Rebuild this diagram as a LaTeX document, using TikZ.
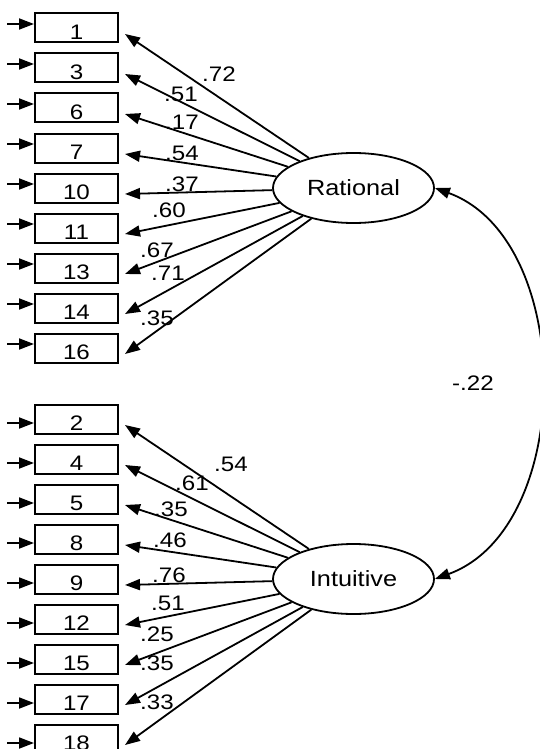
\documentclass[tikz,border=0pt]{standalone}
\usepackage{fontspec}
\newfontfamily\amosfont{Liberation Sans}[FakeStretch=1.15]
\usetikzlibrary{arrows.meta,shapes.geometric}

\tikzset{
  obs/.style={draw, line width=2pt, minimum width=83pt, minimum height=29pt,
    inner sep=0pt, text height=23pt, text depth=0pt,
    font=\amosfont\fontsize{21}{21}\selectfont},
  lat/.style={draw, ellipse, line width=1.8pt, minimum width=161pt,
    minimum height=70pt, inner sep=0pt,
    font=\amosfont\fontsize{22}{22}\selectfont},
  path/.style={line width=1.8pt, ->},
  coef/.style={inner sep=0pt, font=\amosfont\fontsize{21}{21}\selectfont}
}

\begin{document}
\begin{tikzpicture}[x=1pt, y=1pt, >={Triangle[length=15pt,width=11pt]}]
  \useasboundingbox (0,0) rectangle (540,-749);

  \node[lat] (rat) at (353.5,-188) {Rational};
  \node[lat] (int) at (353.5,-579) {Intuitive};

  % rational items
  \foreach \v/\w/\lx/\ly [count=\i from 0] in {1/.72/219/74, 3/.51/181/94,
      6/.17/182/122, 7/.54/182/153, 10/.37/182/184, 11/.60/169/210,
      13/.67/157/250, 14/.71/168/273, 16/.35/157/318} {
    \node[obs] (r\v) at (76.5,{-28-40*\i}) {\v};
    \coordinate (er\v) at ([xshift=-27pt,yshift=4pt]r\v.west);
    \draw[path] (er\v) -- ([yshift=4pt]r\v.west);
    \draw[path] (rat) -- ([xshift=6pt,yshift=-6pt]r\v.east);
    \node[coef] (lr\v) at (\lx,-\ly) {\w};
  }

  % intuitive items
  \foreach \v/\w/\lx/\ly [count=\i from 0] in {2/.54/231/464, 4/.61/192/483,
      5/.35/171/509, 8/.46/170/540, 9/.76/169/575, 12/.51/168/603,
      15/.25/157/634, 17/.35/157/663, 18/.33/157/702} {
    \node[obs] (i\v) at (76.5,{-419-40*\i}) {\v};
    \coordinate (ei\v) at ([xshift=-27pt,yshift=-4pt]i\v.west);
    \draw[path] (ei\v) -- ([yshift=-4pt]i\v.west);
    \draw[path] (int) -- ([xshift=6pt,yshift=-6pt]i\v.east);
    \node[coef] (li\v) at (\lx,-\ly) {\w};
  }

  % correlation
  \draw[path, <->] (rat.east) .. controls +(-20:150) and +(20:150) .. (int.east);
  \node[coef] (cov) at (473,-383) {-.22};
\end{tikzpicture}
\end{document}
